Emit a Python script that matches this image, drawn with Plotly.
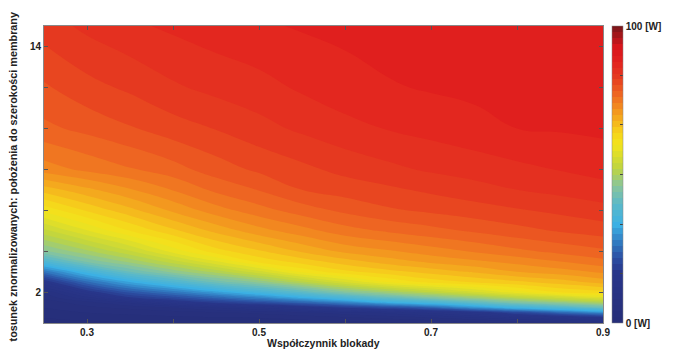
import plotly.graph_objects as go

# Współczynnik blokady (x) and stosunek położenia do szerokości membrany (y)
x_vals = [0.25, 0.3, 0.35, 0.4, 0.45, 0.5, 0.55, 0.6, 0.65, 0.7, 0.75, 0.8, 0.85, 0.9]
y_vals = [0.5, 0.75, 1, 1.25, 1.5, 1.75, 2, 2.5, 3, 3.5, 4, 5, 6, 7, 8, 10, 12, 15]

# power [W], one row per y value, columns follow x_vals
z_row_050 = [1, 1.5, 1.75, 2, 2.25, 2.5, 2.75, 3, 3.5, 4, 5, 6, 6.5, 7]
z_row_075 = [2, 2.7, 3.1, 3.5, 3.75, 4, 4.7, 5.5, 6.6, 7.8, 9.4, 11.5, 13, 15.5]
z_row_100 = [3, 4, 4.5, 5, 5.7, 6.5, 7.5, 9, 10.5, 12.5, 15.5, 20, 24.7, 28.9]
z_row_125 = [4, 5.5, 6.5, 8, 10, 12, 15, 18.2, 20.9, 24.2, 29.6, 34.3, 37.8, 41.6]
z_row_150 = [5, 7, 10.5, 15, 18.5, 21.4, 24.5, 28.2, 33, 36.4, 40.5, 44.6, 47.4, 50.4]
z_row_175 = [6.5, 11.5, 17.9, 21.3, 25, 28.6, 33, 37.3, 41.6, 45.3, 48.6, 52, 54.9, 57.7]
z_row_200 = [8, 16.1, 22.6, 26.6, 31, 35.4, 40.2, 45.1, 48.5, 52, 55.5, 59.1, 62, 63.1]
z_row_250 = [16, 25.5, 32.1, 37.4, 42.7, 46.7, 51.4, 56, 60.2, 62.8, 64.2, 65.6, 67, 68.9]
z_row_300 = [26.4, 35, 42, 46.7, 50.8, 55.3, 60.5, 63.5, 65.2, 66.8, 68.3, 70, 71.1, 72.4]
z_row_350 = [37.4, 44.5, 48.6, 53.1, 57.8, 62.6, 64.9, 67.1, 69, 70.5, 71.6, 72.7, 74, 75.4]
z_row_400 = [45.6, 49.5, 53.7, 58.7, 63.1, 65.7, 68.3, 70.5, 71.7, 73, 74.2, 75.5, 76.6, 77.6]
z_row_500 = [53.4, 57.8, 62, 65.5, 68.6, 71.2, 73.2, 75.1, 76.3, 77.3, 78.3, 79.3, 80.2, 80.9]
z_row_600 = [60.6, 64.3, 67.4, 70.4, 73.1, 75.2, 77, 78.5, 79.7, 80.4, 81.1, 81.8, 82.5, 83.3]
z_row_700 = [66.9, 69.5, 71.8, 74.1, 76.5, 78.1, 80, 80.9, 81.6, 82.4, 83.2, 84, 84.6, 85.2]
z_row_800 = [73, 74.5, 75.8, 77.2, 79, 80.4, 81.5, 82.6, 83.5, 84.3, 84.9, 85.5, 86.1, 86.8]
z_row_1000 = [77.5, 78.6, 79.8, 81.1, 82.1, 83.3, 84.4, 85.4, 86.1, 86.7, 87.3, 88, 88.2, 88.4]
z_row_1200 = [79.7, 81.3, 82.4, 83.7, 84.6, 85.3, 86.3, 87.1, 87.8, 88.2, 88.5, 88.7, 88.9, 89]
z_row_1500 = [83, 84.5, 85.6, 86.4, 87.1, 87.7, 88.2, 88.6, 89, 89.3, 89.6, 89.8, 89.85, 89.9]

z_grid = [z_row_050, z_row_075, z_row_100, z_row_125, z_row_150, z_row_175,
          z_row_200, z_row_250, z_row_300, z_row_350, z_row_400, z_row_500,
          z_row_600, z_row_700, z_row_800, z_row_1000, z_row_1200, z_row_1500]

x_ticks = [0.3, 0.4, 0.5, 0.6, 0.7, 0.8, 0.9]
x_ticktext = ["0.3", "", "0.5", "", "0.7", "", "0.9"]
y_ticks = [2, 4, 6, 8, 10, 12, 14]
y_ticktext = ["2", "", "", "", "", "", "14"]
cb_ticks = [0, 16.67, 33.33, 50, 66.67, 83.33, 100]
cb_ticktext = ["0 [W]", "", "", "", "", "", "100 [W]"]

jet_like = [
    [0.00, "#262e78"], [0.17, "#28368a"], [0.22, "#2c4fa3"], [0.27, "#3179c0"],
    [0.33, "#3cb0e4"], [0.40, "#5cb9c8"], [0.46, "#8ac59a"], [0.52, "#bcd442"],
    [0.60, "#f2e41c"], [0.64, "#f6d41b"], [0.70, "#f4a01e"], [0.76, "#ef6d22"],
    [0.82, "#e63e20"], [0.88, "#e2221f"], [0.93, "#d8151b"], [1.00, "#7a161a"],
]

font_main = dict(family="Liberation Sans", size=10, color="#222222", weight="bold")
font_xtitle = dict(family="Liberation Sans", size=10.5, color="#222222", weight="bold")
font_ytitle = dict(family="Liberation Sans", size=10.8, color="#222222", weight="bold")

fig = go.Figure(go.Contour(
    x=x_vals, y=y_vals, z=z_grid,
    zmin=0, zmax=100,
    colorscale=jet_like,
    contours=dict(start=0, end=100, size=2, coloring="fill"),
    line=dict(width=0, smoothing=1.3),
    colorbar=dict(
        x=1.016, xanchor="left", y=0.5, yanchor="middle", len=1, lenmode="fraction",
        thickness=11, thicknessmode="pixels", xpad=0, ypad=0,
        tickvals=cb_ticks, ticktext=cb_ticktext, ticks="inside", ticklen=3,
        tickcolor="#444444", tickfont=font_main, outlinewidth=0.5, outlinecolor="#888888",
    ),
    hoverinfo="skip",
))

# the page body adds an 8 px offset, margins compensate for it
fig.update_layout(
    width=675, height=349,
    margin=dict(l=36, r=80, t=18, b=34, autoexpand=False),
    paper_bgcolor="white", plot_bgcolor="white",
    font=font_main,
    showlegend=False,
    xaxis=dict(range=[0.25, 0.9], tickvals=x_ticks, ticktext=x_ticktext,
               ticks="inside", ticklen=4, tickcolor="#555555", mirror="ticks",
               showline=True, linecolor="#888888", linewidth=1, showgrid=False,
               zeroline=False, tickfont=font_main, automargin=False),
    yaxis=dict(range=[0.5, 15], tickvals=y_ticks, ticktext=y_ticktext,
               ticks="inside", ticklen=4, tickcolor="#555555", mirror="ticks",
               showline=True, linecolor="#888888", linewidth=1, showgrid=False,
               zeroline=False, tickfont=font_main, automargin=False),
    annotations=[
        dict(text="Współczynnik blokady", xref="paper", yref="paper",
             x=0.5, y=-0.068, xanchor="center", yanchor="middle",
             showarrow=False, font=font_xtitle),
        dict(text="tosunek znormalizowanych: położenia do szerokości membrany",
             xref="paper", yref="paper", x=-0.0555, y=1.054,
             xanchor="center", yanchor="top", textangle=-90,
             showarrow=False, font=font_ytitle),
    ],
)

fig.write_html("out.html")
